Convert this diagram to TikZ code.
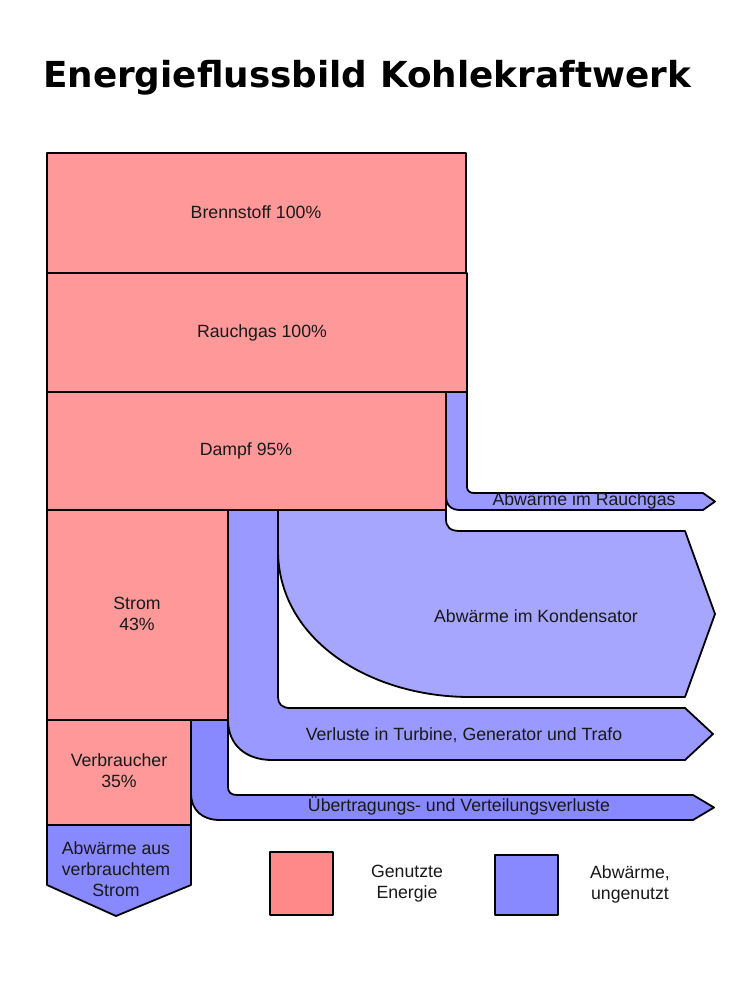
\documentclass[tikz,border=0pt]{standalone}
\usepackage{fontspec}
\setmainfont{Liberation Sans}
\newfontfamily\titlefont{DejaVu Sans}
\definecolor{boxred}{HTML}{FF9999}
\definecolor{legred}{HTML}{FF8888}
\definecolor{blueA}{HTML}{9999FF}
\definecolor{blueK}{HTML}{A6A6FF}
\definecolor{blueU}{HTML}{8888FF}
\begin{document}
\begin{tikzpicture}[x=1pt,y=-1pt,line width=1.8pt,line join=round,
  redbox/.style={draw=black,fill=boxred},
  flow/.style={draw=black,fill=#1},
  lbl/.style={font=\fontsize{17.7}{21}\selectfont,align=center,inner sep=0pt,text=black!90}]
\useasboundingbox[fill=white] (0,0) rectangle (737,990);
% title
\node[inner sep=0pt,font=\titlefont\bfseries\fontsize{35.8}{40}\selectfont] (title) at (367,78) {Energieflussbild Kohlekraftwerk};
% flows
\draw[flow=blueA] (467,392) -- (467,487) .. controls (467,491) and (470,493) .. (474,493) -- (703,493) -- (715,501.5) -- (703,510) -- (460,510) .. controls (451,510) and (446,505) .. (446,496) -- (446,392) -- cycle;
\draw[flow=blueK] (278,510) -- (446,510) -- (446,519) .. controls (446,527) and (450,531) .. (460,531) -- (685,531) -- (715,614) -- (685,697) -- (470,697) .. controls (370,697) and (278,640) .. (278,550) -- cycle;
\draw[flow=blueA] (228,510) -- (278,510) -- (278,697) .. controls (278,704) and (282,708) .. (290,708) -- (685,708) -- (713,734) -- (685,760) -- (272,760) .. controls (246,760) and (228,745) .. (228,720) -- cycle;
\draw[flow=blueU] (191,720) -- (228,720) -- (228,787) .. controls (228,792) and (231,795) .. (237,795) -- (693,795) -- (714,807.5) -- (693,820) -- (220,820) .. controls (202,820) and (191,810) .. (191,793) -- cycle;
% boxes
\draw[redbox] (47,153) rectangle (466,273);
\draw[redbox] (47,273) rectangle (467,392);
\draw[redbox] (47,392) rectangle (446,510);
\draw[redbox] (47,510) rectangle (228,720);
\draw[redbox] (47,720) rectangle (191,825);
\draw[flow=blueU] (47,825) -- (191,825) -- (191,885) -- (116,916) -- (47,885) -- cycle;
% labels
\node[lbl] (brenn) at (256,212) {Brennstoff 100\%};
\node[lbl] (rauch) at (262,333) {Rauchgas 100\%};
\node[lbl] (dampf) at (246,451) {Dampf 95\%};
\node[lbl] (strom) at (137,614) {Strom\\43\%};
\node[lbl] (verb) at (119,771) {Verbraucher\\35\%};
\node[lbl] (abstrom) at (116,869) {Abwärme aus\\verbrauchtem\\Strom};
\node[lbl] (abrauch) at (584,501) {Abwärme im Rauchgas};
\node[lbl] (abkond) at (536,616) {Abwärme im Kondensator};
\node[lbl] (verl) at (464,735) {Verluste in Turbine, Generator und Trafo};
\node[lbl] (uebert) at (459,806) {Übertragungs- und Verteilungsverluste};
% legend
\draw[draw=black,fill=legred] (270,852) rectangle (333,915);
\draw[draw=black,fill=blueU] (495,855) rectangle (558,915);
\node[lbl] (legA) at (407,884) {Genutzte\\Energie};
\node[lbl] (legB) at (630,884) {Abwärme,\\ungenutzt};
\end{tikzpicture}
\end{document}
